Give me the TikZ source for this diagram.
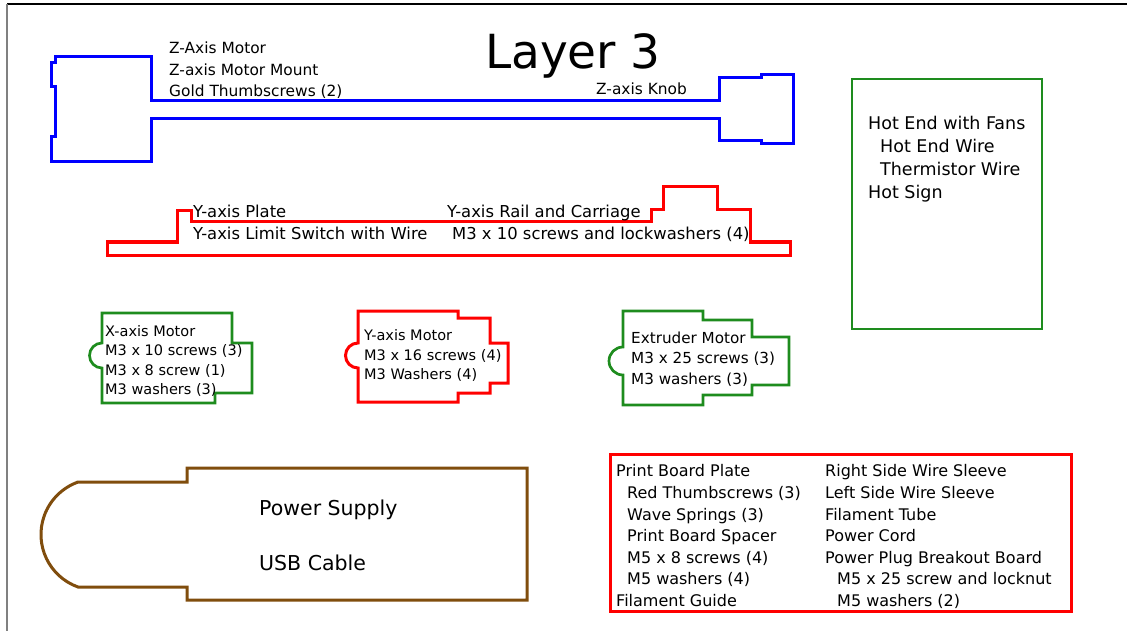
\documentclass[tikz,border=0pt]{standalone}
\usepackage{fontspec}
\setmainfont{DejaVu Sans}
\definecolor{zblue}{RGB}{0,0,255}
\definecolor{pred}{RGB}{255,0,0}
\definecolor{pgreen}{RGB}{30,140,30}
\definecolor{pbrown}{RGB}{128,77,13}
\begin{document}
\begin{tikzpicture}[x=1pt,y=-1pt,
  outline/.style={line width=3pt, line join=miter},
  thinoutline/.style={line width=2.7pt, line join=miter},
  lbl/.style={anchor=base west, inner sep=0pt, font=\fontsize{15.2}{18}\selectfont},
  lblz/.style={lbl, font=\fontsize{15.4}{18}\selectfont},
  lblm/.style={lbl, font=\fontsize{14.5}{17}\selectfont},
  lbly/.style={lbl, font=\fontsize{16.4}{19}\selectfont},
  lblb/.style={lbl, font=\fontsize{16}{19}\selectfont},
  lblh/.style={lbl, font=\fontsize{17.5}{20}\selectfont},
  lblp/.style={lbl, font=\fontsize{20.5}{24}\selectfont}]
\useasboundingbox (0,0) rectangle (1127,631);

% page frame
\draw[line width=1.2pt] (7,4) -- (1127,4);
\draw[gray, line width=1.5pt] (7,4) -- (7,631);

% title
\node[anchor=base, inner sep=0pt, font=\fontsize{47}{50}\selectfont] (title) at (573,69) {Layer 3};

% Z-axis assembly
\draw[outline, zblue] (55,57) -- (151,57) -- (151,101) -- (719,101) -- (719,78) -- (761,78)
  -- (761,75) -- (793,75) -- (793,144) -- (761,144) -- (761,141) -- (719,141) -- (719,119)
  -- (151,119) -- (151,162) -- (51,162) -- (51,137) -- (55,137) -- (55,87) -- (51,87)
  -- (51,63) -- (55,63) -- cycle;
\node[lblz] (zmotor) at (169,54) {Z-Axis Motor};
\node[lblz] (zmount) at (169,75.5) {Z-axis Motor Mount};
\node[lblz] (zthumb) at (169,97) {Gold Thumbscrews (2)};
\node[lblz] (zknob) at (596,95) {Z-axis Knob};

% Y-axis plate
\draw[outline, pred] (107,242) -- (177,242) -- (177,211) -- (191,211) -- (191,222) -- (651,222)
  -- (651,210) -- (663,210) -- (663,187) -- (717,187) -- (717,210) -- (750,210) -- (750,242)
  -- (790,242) -- (790,255) -- (107,255) -- cycle;
\node[lbly] (yplate) at (193,217.5) {Y-axis Plate};
\node[lbly] (ylimit) at (193,240) {Y-axis Limit Switch with Wire};
\node[lbly] (yrail) at (447,217.5) {Y-axis Rail and Carriage};
\node[lbly] (yscrews) at (452,240) {M3 x 10 screws and lockwashers (4)};

% X-axis motor
\draw[thinoutline, pgreen] (102,313) -- (232,313) -- (232,343) -- (252,343) -- (252,393)
  -- (215,393) -- (215,403) -- (102,403) -- (102,368)
  arc[start angle=270, end angle=90, radius=12.5pt] -- cycle;
\node[lblm] (xm1) at (105,336) {X-axis Motor};
\node[lblm] (xm2) at (105,355.5) {M3 x 10 screws (3)};
\node[lblm] (xm3) at (105,375) {M3 x 8 screw (1)};
\node[lblm] (xm4) at (105,394.5) {M3 washers (3)};

% Y-axis motor
\draw[outline, pred] (358,311) -- (458,311) -- (458,318) -- (490,318) -- (490,343) -- (508,343)
  -- (508,383) -- (490,383) -- (490,393) -- (458,393) -- (458,402) -- (358,402) -- (358,368)
  arc[start angle=270, end angle=90, radius=12.5pt] -- cycle;
\node[lblm] (ym1) at (364,340) {Y-axis Motor};
\node[lblm] (ym2) at (364,360) {M3 x 16 screws (4)};
\node[lblm] (ym3) at (364,379) {M3 Washers (4)};

% Extruder motor
\draw[thinoutline, pgreen] (623,311) -- (703,311) -- (703,320) -- (752,320) -- (752,337)
  -- (789,337) -- (789,385) -- (752,385) -- (752,395) -- (703,395) -- (703,405) -- (623,405)
  -- (623,375) arc[start angle=270, end angle=90, radius=14pt] -- cycle;
\node[lbl] (em1) at (631,343) {Extruder Motor};
\node[lbl] (em2) at (631,363) {M3 x 25 screws (3)};
\node[lbl] (em3) at (631,384) {M3 washers (3)};

% Hot end box
\draw[thinoutline, pgreen] (852,79) rectangle (1042,329);
\node[lblh] (he1) at (868,130) {Hot End with Fans};
\node[lblh] (he2) at (880,153) {Hot End Wire};
\node[lblh] (he3) at (880,176) {Thermistor Wire};
\node[lblh] (he4) at (868,199) {Hot Sign};

% Power supply
\draw[outline, pbrown] (78,482) -- (187,482) -- (187,468) -- (527,468) -- (527,600) -- (187,600)
  -- (187,587) -- (78,587) arc[start angle=250.4, end angle=109.6, radius=55.7pt] -- cycle;
\node[lblp] (psu) at (259,515) {Power Supply};
\node[lblp] (usb) at (259,570) {USB Cable};

% Print board box
\draw[outline, pred] (610,454) rectangle (1071,611);
\node[lblb] (pb1) at (616,476) {Print Board Plate};
\node[lblb] (pb2) at (627,498) {Red Thumbscrews (3)};
\node[lblb] (pb3) at (627,520) {Wave Springs (3)};
\node[lblb] (pb4) at (627,541) {Print Board Spacer};
\node[lblb] (pb5) at (627,563) {M5 x 8 screws (4)};
\node[lblb] (pb6) at (627,584) {M5 washers (4)};
\node[lblb] (pb7) at (616,606) {Filament Guide};
\node[lblb] (pr1) at (825,476) {Right Side Wire Sleeve};
\node[lblb] (pr2) at (825,498) {Left Side Wire Sleeve};
\node[lblb] (pr3) at (825,520) {Filament Tube};
\node[lblb] (pr4) at (825,541) {Power Cord};
\node[lblb] (pr5) at (825,563) {Power Plug Breakout Board};
\node[lblb] (pr6) at (837,584) {M5 x 25 screw and locknut};
\node[lblb] (pr7) at (837,606) {M5 washers (2)};
\end{tikzpicture}
\end{document}
